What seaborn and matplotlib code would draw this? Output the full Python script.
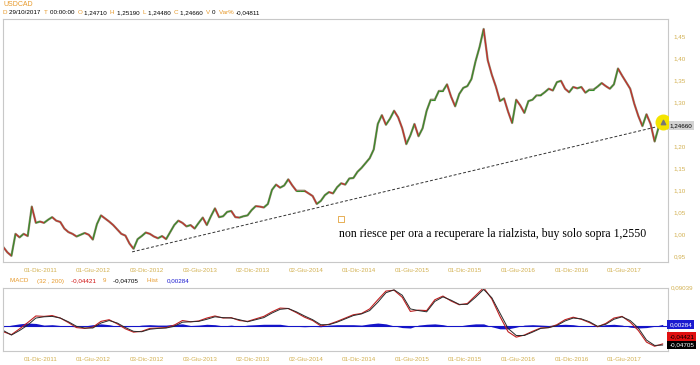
import seaborn as sns
import pandas as pd
import numpy as np
import matplotlib
matplotlib.use('Agg')
import matplotlib.pyplot as plt
import matplotlib.dates as mdates
import matplotlib.transforms as mtransforms
from matplotlib.collections import LineCollection

sns.set_style('white')
plt.rcParams['font.family'] = ['Liberation Sans', 'DejaVu Sans']

# ---- data ----
# price closes, one every 14 days from 27-07-2011
price_start = '2011-07-27'
closes = [0.970, 0.958, 0.950, 1.000, 0.992, 1.000, 0.995, 1.062, 1.025, 1.028,
          1.025, 1.032, 1.038, 1.030, 1.027, 1.012, 1.004, 1.000, 0.994, 0.998,
          1.002, 0.998, 0.987, 1.022, 1.042, 1.035, 1.028, 1.020, 1.010, 1.000,
          0.996, 0.978, 0.966, 0.988, 0.995, 1.003, 1.000, 0.994, 0.990, 0.995,
          0.988, 1.004, 1.020, 1.030, 1.025, 1.017, 1.020, 1.012, 1.025, 1.037,
          1.020, 1.040, 1.058, 1.038, 1.040, 1.050, 1.052, 1.038, 1.037, 1.040,
          1.042, 1.054, 1.063, 1.062, 1.060, 1.068, 1.100, 1.112, 1.105, 1.110,
          1.124, 1.110, 1.098, 1.098, 1.098, 1.092, 1.086, 1.068, 1.075, 1.088,
          1.095, 1.092, 1.106, 1.115, 1.112, 1.126, 1.127, 1.141, 1.150, 1.161,
          1.172, 1.192, 1.250, 1.270, 1.248, 1.262, 1.280, 1.265, 1.240, 1.204,
          1.224, 1.250, 1.222, 1.240, 1.280, 1.305, 1.305, 1.325, 1.325, 1.340,
          1.312, 1.290, 1.318, 1.332, 1.336, 1.352, 1.392, 1.425, 1.466, 1.395,
          1.362, 1.335, 1.302, 1.308, 1.278, 1.252, 1.305, 1.292, 1.275, 1.302,
          1.305, 1.315, 1.315, 1.322, 1.330, 1.326, 1.345, 1.348, 1.330, 1.322,
          1.334, 1.331, 1.334, 1.321, 1.328, 1.328, 1.335, 1.343, 1.336, 1.330,
          1.340, 1.376, 1.360, 1.345, 1.330, 1.296, 1.268, 1.245, 1.272, 1.250,
          1.210, 1.243, 1.2466]

# MACD (32, 200) and histogram, one every 28 days from 27-07-2011
macd_vals = [-0.015, -0.022, -0.008, 0.007, 0.023, 0.022, 0.024, 0.018, 0.007, -0.005,
             -0.007, -0.004, 0.010, 0.014, 0.004, -0.008, -0.016, -0.014, -0.007, -0.006,
             -0.005, 0.001, 0.012, 0.009, 0.011, 0.018, 0.023, 0.018, 0.019, 0.012,
             0.010, 0.016, 0.022, 0.033, 0.042, 0.041, 0.031, 0.020, 0.012, -0.001,
             0.003, 0.010, 0.018, 0.026, 0.029, 0.040, 0.062, 0.083, 0.085, 0.068,
             0.034, 0.037, 0.036, 0.062, 0.071, 0.059, 0.050, 0.053, 0.072, 0.091,
             0.064, 0.022, -0.015, -0.028, -0.023, -0.014, -0.006, -0.005, 0.002, 0.014,
             0.020, 0.015, 0.007, -0.003, 0.005, 0.018, 0.022, 0.008, -0.012, -0.040,
             -0.050, -0.04421]
hist_vals = [-0.003, 0.001, 0.004, 0.006, 0.005, 0.001, 0.002, 0.000, -0.002, -0.003,
             -0.001, 0.002, 0.004, 0.002, -0.002, -0.003, -0.002, 0.001, 0.002, 0.001,
             0.001, 0.003, 0.004, 0.000, 0.001, 0.003, 0.002, -0.001, 0.001, -0.002,
             0.001, 0.002, 0.003, 0.003, 0.003, 0.000, -0.002, -0.003, -0.002, -0.003,
             0.001, 0.002, 0.002, 0.002, 0.001, 0.004, 0.006, 0.004, -0.001, -0.005,
             -0.006, 0.001, 0.003, 0.004, 0.002, -0.002, -0.001, 0.002, 0.004, 0.004,
             -0.003, -0.008, -0.008, -0.004, 0.001, 0.002, 0.001, 0.000, 0.002, 0.003,
             0.002, -0.001, -0.002, -0.001, 0.002, 0.003, 0.001, -0.004, -0.006, -0.005,
             -0.002, 0.00284]

trend_dates = ['2012-10-12', '2017-09-30']
trend_values = [0.959, 1.245]

tick_dates = ['2011-12-01', '2012-06-01', '2012-12-03', '2013-06-03', '2013-12-02', '2014-06-02',
              '2014-12-01', '2015-06-01', '2015-12-01', '2016-06-01', '2016-12-01', '2017-06-01']
tick_labels = ['01-Dic-2011', '01-Giu-2012', '03-Dic-2012', '03-Giu-2013', '02-Dic-2013', '02-Giu-2014',
               '01-Dic-2014', '01-Giu-2015', '01-Dic-2015', '01-Giu-2016', '01-Dic-2016', '01-Giu-2017']
# 1,25 sits under the last-price box, so it is not listed
price_ticks = [0.95, 1.00, 1.05, 1.10, 1.15, 1.20, 1.30, 1.35, 1.40, 1.45]

last_close = 1.2466
macd_top = 0.09039

df_price = pd.DataFrame({'date': pd.date_range(price_start, periods=len(closes), freq='14D'),
                         'close': closes})
df_macd = pd.DataFrame({'date': pd.date_range(price_start, periods=len(macd_vals), freq='28D'),
                        'macd': macd_vals, 'hist': hist_vals})
df_macd['signal'] = df_macd['macd'] - df_macd['hist']

GOLD = '#d2b050'
ORANGE = '#e79a2c'

fig = plt.figure(figsize=(7, 3.65), dpi=100)
ax1 = fig.add_axes([3 / 700, 1 - 262 / 365, 665 / 700, 243 / 365])
ax2 = fig.add_axes([3 / 700, 1 - 351 / 365, 665 / 700, 63 / 365])

xlim = (pd.Timestamp('2011-07-26'), pd.Timestamp('2017-10-29'))

# price as coloured up/down segments on a dark base
xs = mdates.date2num(df_price['date'])
ys = df_price['close'].values
segs = [[(xs[i], ys[i]), (xs[i + 1], ys[i + 1])] for i in range(len(xs) - 1)]
cols = ['#2a8a1e' if ys[i + 1] >= ys[i] else '#c82020' for i in range(len(xs) - 1)]
ax1.plot(df_price['date'], df_price['close'], color='#4a3a12', lw=1.6, alpha=0.6)
ax1.add_collection(LineCollection(segs, colors=cols, linewidths=0.8, alpha=0.9))

sns.lineplot(x=pd.to_datetime(trend_dates), y=trend_values, ax=ax1, color='#333333',
             lw=0.7, linestyle=(0, (3, 2)))
ax1.scatter(df_price['date'].iloc[-1], 1.255, s=110, color='#f4e400', zorder=5)
ax1.scatter(df_price['date'].iloc[-1], 1.255, s=10, marker='^', color='#777777', zorder=6)

ax1.set_xlim(xlim)
ax1.set_ylim(0.936, 1.4886)
ax1.yaxis.tick_right()
ax1.set_yticks(price_ticks)
ax1.set_yticklabels([f'{v:.2f}'.replace('.', ',') for v in price_ticks])
ax1.set_xticks(pd.to_datetime(tick_dates))
ax1.set_xticklabels(tick_labels)
ax1.tick_params(axis='both', length=0, labelsize=4.5, labelcolor=GOLD, pad=4)
ax1.set_xlabel('')
ax1.set_ylabel('')

tr1 = mtransforms.blended_transform_factory(ax1.transAxes, ax1.transData)
ax1.text(1.002, last_close, '1,24660', transform=tr1, fontsize=4.5, va='center', ha='left',
         color='black', bbox=dict(boxstyle='square,pad=0.35', fc='#d3d3d3', ec='none'))

ax1.scatter([0.508], [0.176], transform=ax1.transAxes, marker='s', s=16,
            facecolor='none', edgecolor='#e3a23a', lw=0.6)
ax1.text(0.505, 0.115, 'non riesce per ora a recuperare la rialzista, buy solo sopra 1,2550',
         transform=ax1.transAxes, fontsize=8.5, family=['Liberation Serif', 'DejaVu Serif'],
         va='center', ha='left', color='black')

# MACD panel
ax2.fill_between(df_macd['date'], 0, df_macd['hist'], color='#1414c8', lw=0)
ax2.axhline(0, color='#1414c8', lw=0.8)
sns.lineplot(data=df_macd, x='date', y='macd', ax=ax2, color='#c02020', lw=0.8)
sns.lineplot(data=df_macd, x='date', y='signal', ax=ax2, color='#2a2a2a', lw=0.7)
ax2.set_xlim(xlim)
ax2.set_ylim(-0.0614, 0.0904)
ax2.set_yticks([])
ax2.set_xticks(pd.to_datetime(tick_dates))
ax2.set_xticklabels(tick_labels)
ax2.tick_params(axis='x', length=0, labelsize=4.5, labelcolor=GOLD, pad=4)
ax2.set_xlabel('')
ax2.set_ylabel('')

tr2 = mtransforms.blended_transform_factory(ax2.transAxes, ax2.transData)
ax2.text(1.004, macd_top, '0,09039', transform=tr2, fontsize=4.5, va='center', color=GOLD)
for val, txt, fc, tc in [(0.00284, '0,00284', '#1a1ad0', 'white'),
                         (-0.0265, '-0,04421', '#e01010', 'black'),
                         (-0.0470, '-0,04705', 'black', 'white')]:
    ax2.text(1.002, val, txt, transform=tr2, fontsize=4.5, va='center', ha='left', color=tc,
             bbox=dict(boxstyle='square,pad=0.3', fc=fc, ec='none'))

for ax in (ax1, ax2):
    for s in ax.spines.values():
        s.set_color('#c8c8c8')
        s.set_linewidth(0.8)

# header texts, drawn as coloured runs
renderer = fig.canvas.get_renderer()


def draw_runs(x, y, runs, size):
    for txt, col in runs:
        t = fig.text(x, y, txt, color=col, fontsize=size, va='center', ha='left')
        x += t.get_window_extent(renderer).width / fig.bbox.width


fig.text(3 / 700, 1 - 5 / 365, 'USDCAD', color=ORANGE, fontsize=5, va='center')
draw_runs(3 / 700, 1 - 13 / 365,
          [('D ', ORANGE), ('29/10/2017  ', 'black'), ('T ', ORANGE), ('00:00:00  ', 'black'),
           ('O ', ORANGE), ('1,24710  ', 'black'), ('H ', ORANGE), ('1,25190  ', 'black'),
           ('L ', ORANGE), ('1,24480  ', 'black'), ('C ', ORANGE), ('1,24660  ', 'black'),
           ('V ', ORANGE), ('0  ', 'black'), ('Var% ', ORANGE), ('-0,04811', 'black')], 4.5)
draw_runs(10 / 700, 1 - 281 / 365,
          [('MACD     ', ORANGE), ('(32 , 200)    ', ORANGE), ('-0,04421    ', '#d01010'),
           ('9    ', ORANGE), ('-0,04705     ', 'black'), ('Hist     ', ORANGE),
           ('0,00284', '#1a1ad0')], 4.5)

fig.savefig('out.png', dpi=100)
